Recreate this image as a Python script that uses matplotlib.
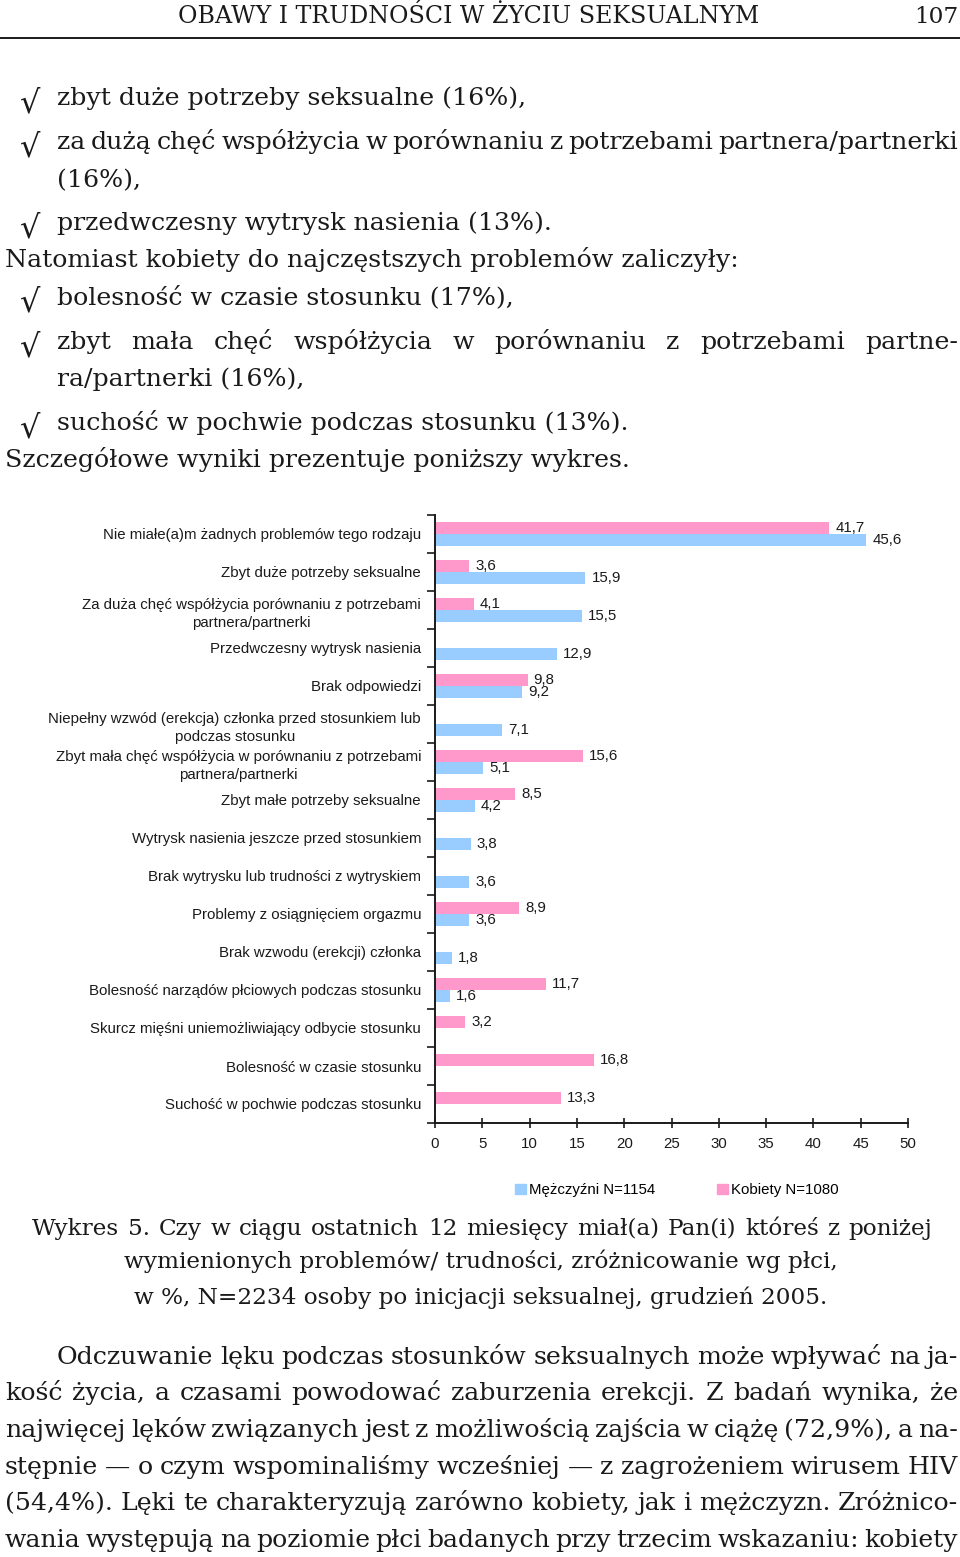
import matplotlib
matplotlib.use("Agg")
import matplotlib.pyplot as plt
from matplotlib.lines import Line2D
from matplotlib.patches import Patch
import numpy as np

W, H = 960, 1557

# dane wykresu
kategorie = [
    "Nie miałe(a)m żadnych problemów tego rodzaju",
    "Zbyt duże potrzeby seksualne",
    "Za duża chęć współżycia porównaniu z potrzebami\npartnera/partnerki",
    "Przedwczesny wytrysk nasienia",
    "Brak odpowiedzi",
    "Niepełny wzwód (erekcja) członka przed stosunkiem lub\npodczas stosunku",
    "Zbyt mała chęć współżycia w porównaniu z potrzebami\npartnera/partnerki",
    "Zbyt małe potrzeby seksualne",
    "Wytrysk nasienia jeszcze przed stosunkiem",
    "Brak wytrysku lub trudności z wytryskiem",
    "Problemy z osiągnięciem orgazmu",
    "Brak wzwodu (erekcji) członka",
    "Bolesność narządów płciowych podczas stosunku",
    "Skurcz mięśni uniemożliwiający odbycie stosunku",
    "Bolesność w czasie stosunku",
    "Suchość w pochwie podczas stosunku",
]
kobiety = [41.7, 3.6, 4.1, None, 9.8, None, 15.6, 8.5, None, None, 8.9, None, 11.7, 3.2, 16.8, 13.3]
mezczyzni = [45.6, 15.9, 15.5, 12.9, 9.2, 7.1, 5.1, 4.2, 3.8, 3.6, 3.6, 1.8, 1.6, None, None, None]
ticks_x = list(range(0, 55, 5))
legenda = ["Mężczyźni N=1154", "Kobiety N=1080"]

# tekst strony
naglowek = "OBAWY I TRUDNOŚCI W ŻYCIU SEKSUALNYM"
nr_strony = "107"
lista_m = [
    "zbyt duże potrzeby seksualne (16%),",
    "za dużą chęć współżycia w porównaniu z potrzebami partnera/partnerki",
    "(16%),",
    "przedwczesny wytrysk nasienia (13%).",
]
zdanie_k = "Natomiast kobiety do najczęstszych problemów zaliczyły:"
lista_k = [
    "bolesność w czasie stosunku (17%),",
    "zbyt mała chęć współżycia w porównaniu z potrzebami partne-",
    "ra/partnerki (16%),",
    "suchość w pochwie podczas stosunku (13%).",
]
zdanie_w = "Szczegółowe wyniki prezentuje poniższy wykres."
podpis = [
    "Wykres 5. Czy w ciągu ostatnich 12 miesięcy miał(a) Pan(i) któreś z poniżej",
    "wymienionych problemów/ trudności, zróżnicowanie wg płci,",
    "w %, N=2234 osoby po inicjacji seksualnej, grudzień 2005.",
]
akapit = [
    "Odczuwanie lęku podczas stosunków seksualnych może wpływać na ja-",
    "kość życia, a czasami powodować zaburzenia erekcji. Z badań wynika, że",
    "najwięcej lęków związanych jest z możliwością zajścia w ciążę (72,9%), a na-",
    "stępnie — o czym wspominaliśmy wcześniej — z zagrożeniem wirusem HIV",
    "(54,4%). Lęki te charakteryzują zarówno kobiety, jak i mężczyzn. Zróżnico-",
    "wania występują na poziomie płci badanych przy trzecim wskazaniu: kobiety",
]

PINK = "#FF99CC"
BLUE = "#99CCFF"
INK = "#1a1a1a"
SERIF = "DejaVu Serif"
plt.rcParams["font.family"] = ["Liberation Sans", "DejaVu Sans"]

fig = plt.figure(figsize=(W / 100, H / 100), dpi=100)
fig.patch.set_facecolor("white")
r = fig.canvas.get_renderer()


def fx(x):
    return x / W


def fy(y):
    return 1 - y / H


def txt(x, y, s, size, ha="left", **kw):
    return fig.text(fx(x), fy(y), s, fontsize=size, ha=ha, va="baseline",
                    family=SERIF, color=INK, **kw)


def szer(t):
    return t.get_window_extent(r).width


def dopasuj(t, cel):
    # dobór rozmiaru czcionki do szerokości z oryginału
    t.set_fontsize(t.get_fontsize() * cel / szer(t))
    return t.get_fontsize()


def justuj(x0, x1, y, s, size):
    # wyjustowanie linii jak w LaTeX-u
    slowa = s.split(" ")
    ts = [txt(x0, y, w, size) for w in slowa]
    ws = [szer(t) for t in ts]
    gap = (x1 - x0 - sum(ws)) / (len(ws) - 1)
    min_gap = size * 0.28
    if gap < min_gap:
        f = (x1 - x0 - min_gap * (len(ws) - 1)) / sum(ws)
        for t in ts:
            t.set_fontsize(size * f)
        ws = [szer(t) for t in ts]
        gap = (x1 - x0 - sum(ws)) / (len(ws) - 1)
    x = x0
    for t, w in zip(ts, ws):
        t.set_x(fx(x))
        x += w + gap


def haczyk(y):
    # znak √ przed punktem listy, środek na wysokości wiersza
    fig.text(fx(19), fy(y - 1), "√", fontsize=23, ha="left", va="center",
             family=SERIF, color=INK)


BODY = dopasuj(txt(5, 267, zdanie_k, 20), 733)

# nagłówek
dopasuj(txt(178, 23, naglowek, 16), 582)
txt(958, 23, nr_strony, BODY * 0.92, ha="right")
fig.add_artist(Line2D([0, 1], [fy(38), fy(38)], color=INK, lw=1.4, transform=fig.transFigure))

# listy
haczyk(105)
txt(57, 105, lista_m[0], BODY)
haczyk(149)
justuj(57, 958, 149, lista_m[1], BODY)
txt(57, 187, lista_m[2], BODY)
haczyk(230)
txt(57, 230, lista_m[3], BODY)

haczyk(304)
txt(57, 304, lista_k[0], BODY)
haczyk(349)
justuj(57, 958, 349, lista_k[1], BODY)
txt(57, 386, lista_k[2], BODY)
haczyk(430)
txt(57, 430, lista_k[3], BODY)
txt(5, 467, zdanie_w, BODY)

# wykres
ax = fig.add_axes([fx(435), fy(1123), (908 - 435) / W, (1123 - 515) / H])
n = len(kategorie)
poz = np.arange(n)
LAB = 10.8

ik = [i for i, v in enumerate(kobiety) if v is not None]
im = [i for i, v in enumerate(mezczyzni) if v is not None]
vk = [kobiety[i] for i in ik]
vm = [mezczyzni[i] for i in im]
ax.barh(poz[ik] - 0.165, vk, height=0.31, color=PINK, linewidth=0)
ax.barh(poz[im] + 0.165, vm, height=0.31, color=BLUE, linewidth=0)

for i, v in zip(ik, vk):
    ax.annotate(f"{v:.1f}".replace(".", ","), (v, i - 0.165), xytext=(6, 0),
                textcoords="offset pixels", va="center", ha="left", fontsize=LAB, color=INK)
for i, v in zip(im, vm):
    ax.annotate(f"{v:.1f}".replace(".", ","), (v, i + 0.165), xytext=(6, 0),
                textcoords="offset pixels", va="center", ha="left", fontsize=LAB, color=INK)

ax.set_xlim(0, 50)
ax.set_ylim(n - 0.5, -0.5)
ax.set_xticks(ticks_x)
ax.set_xticklabels([str(v) for v in ticks_x], fontsize=LAB, color=INK)
ax.tick_params(axis="x", direction="inout", length=7, width=1.2, pad=6.5, color=INK)

ax.set_yticks(np.arange(-0.5, n), labels=[""] * (n + 1))
ax.set_yticks(poz, labels=kategorie, minor=True)
ax.tick_params(axis="y", which="major", direction="out", length=6, width=1.2, color=INK)
ax.tick_params(axis="y", which="minor", length=0, pad=10, labelsize=LAB, labelcolor=INK)
for lbl in ax.get_yticklabels(minor=True):
    lbl.set_multialignment("center")
    lbl.set_linespacing(1.45)

for s in ["top", "right"]:
    ax.spines[s].set_visible(False)
for s in ["left", "bottom"]:
    ax.spines[s].set_linewidth(1.4)
    ax.spines[s].set_color(INK)

uchwyty = [Patch(color=BLUE), Patch(color=PINK)]
fig.legend(uchwyty, legenda, loc="center", bbox_to_anchor=(fx(677), fy(1190)), ncol=2,
           frameon=False, fontsize=LAB, handlelength=0.7, handleheight=0.7,
           handletextpad=0.25, columnspacing=4.1, borderpad=0)

# podpis
CAP = dopasuj(txt(481, 1268, podpis[1], BODY, ha="center"), 713)
txt(481, 1304, podpis[2], CAP, ha="center")
justuj(32, 932, 1235, podpis[0], CAP)

# akapit
linie_y = [1364, 1400, 1437, 1474, 1510, 1547]
for k, (s, yb) in enumerate(zip(akapit, linie_y)):
    justuj(57 if k == 0 else 5, 958, yb, s, BODY)

fig.savefig("out.png", dpi=100, facecolor="white")
